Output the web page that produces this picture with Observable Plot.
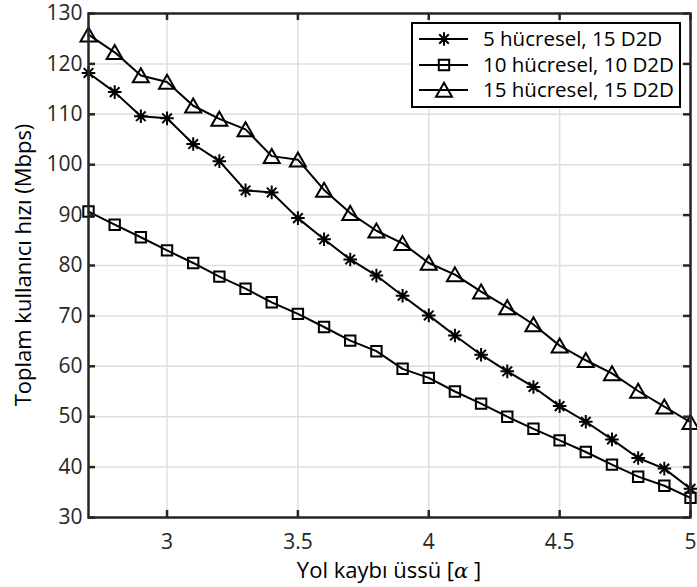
<!DOCTYPE html>
<html><head><meta charset="utf-8">
<script src="https://cdn.jsdelivr.net/npm/d3@7"></script>
<script src="https://cdn.jsdelivr.net/npm/@observablehq/plot@0.6"></script>
<style>body{margin:0;background:#fff}</style>
</head><body><div id="chart"></div>
<script>
const alpha = [2.7,2.8,2.9,3.0,3.1,3.2,3.3,3.4,3.5,3.6,3.7,3.8,3.9,4.0,4.1,4.2,4.3,4.4,4.5,4.6,4.7,4.8,4.9,5.0];
const s5  = [118.2,114.4,109.6,109.2,104.1,100.7,94.9,94.5,89.4,85.2,81.2,78.0,74.0,70.1,66.1,62.3,59.0,55.9,52.1,49.0,45.5,41.8,39.7,35.7];
const s10 = [90.7,88.1,85.6,83.0,80.5,77.8,75.4,72.7,70.4,67.8,65.1,63.0,59.5,57.7,55.0,52.6,50.0,47.6,45.3,43.0,40.5,38.1,36.3,33.9];
const s15 = [125.8,122.3,117.7,116.4,111.7,109.1,107.0,101.7,101.0,95.0,90.4,86.9,84.4,80.5,78.2,74.8,71.7,68.3,64.1,61.2,58.6,55.1,52.0,48.9];
const seriesNames = ["5 hücresel, 15 D2D","10 hücresel, 10 D2D","15 hücresel, 15 D2D"];
const xTicks = [3,3.5,4,4.5,5];
const yTicks = [30,40,50,60,70,80,90,100,110,120,130];
const xLabelMain = "Yol kaybı üssü [";
const xLabelSym = "α";
const xLabelEnd = " ]";
const yLabel = "Toplam kullanıcı hızı (Mbps)";

const W = 697, H = 587, mL = 88, mR = 7, mT = 13, mB = 70;
const iW = W - mL - mR, iH = H - mT - mB;

const asterisk = {draw(c){const r=6.8,d=r*Math.SQRT1_2;c.moveTo(0,-r);c.lineTo(0,r);c.moveTo(-r,0);c.lineTo(r,0);c.moveTo(-d,-d);c.lineTo(d,d);c.moveTo(-d,d);c.lineTo(d,-d);}};
const square = {draw(c){const h=5.2;c.moveTo(-h,-h);c.lineTo(h,-h);c.lineTo(h,h);c.lineTo(-h,h);c.closePath();}};
const triangle = {draw(c){c.moveTo(0,-7.2);c.lineTo(8,6.8);c.lineTo(-8,6.8);c.closePath();}};
const symbols = [asterisk, square, triangle];
const keys = ["v5","v10","v15"];

const rows = alpha.map((a,i)=>({alpha:a, v5:s5[i], v10:s10[i], v15:s15[i]}));

const tickStyle = {stroke:"#262626", strokeWidth:2.5};
const seriesMarks = keys.flatMap((k,i)=>[
  Plot.line(rows,{x:"alpha",y:k,stroke:"black",strokeWidth:2}),
  Plot.dot(rows,{x:"alpha",y:k,symbol:symbols[i],stroke:"black",strokeWidth:2,fill:"none"})
]);

const svg = Plot.plot({
  width: W, height: H,
  marginLeft: mL, marginRight: mR, marginTop: mT, marginBottom: mB,
  style: {fontFamily:"'Open Sans', sans-serif", fontSize:"21px", color:"#262626", background:"#fff", overflow:"visible"},
  x: {domain:[2.7,5]},
  y: {domain:[30,130]},
  marks: [
    Plot.gridX(xTicks,{stroke:"#dedede",strokeOpacity:1,strokeWidth:1.5}),
    Plot.gridY(yTicks,{stroke:"#dedede",strokeOpacity:1,strokeWidth:1.5}),
    ...seriesMarks,
    Plot.frame({stroke:"#262626",strokeWidth:2.5}),
    Plot.tickX(xTicks,{x:d=>d, insetTop:iH-7, ...tickStyle}),
    Plot.tickX(xTicks,{x:d=>d, insetBottom:iH-7, ...tickStyle}),
    Plot.tickY(yTicks,{y:d=>d, insetRight:iW-7, ...tickStyle}),
    Plot.tickY(yTicks,{y:d=>d, insetLeft:iW-7, ...tickStyle}),
    Plot.axisX(xTicks,{tickSize:0,tickPadding:17,label:null,tickFormat:d=>String(d)}),
    Plot.axisY(yTicks,{tickSize:0,tickPadding:6,label:null})
  ]
});
document.getElementById("chart").appendChild(svg);

const s = d3.select(svg);
// axis labels
s.append("text").attr("transform",`translate(23,${mT+iH/2}) rotate(-90)`)
  .attr("text-anchor","middle").attr("dy","0.35em").attr("fill","#000")
  .style("font-size","22px").text(yLabel);
const xl = s.append("text").attr("x", mL+iW/2).attr("y",578)
  .attr("text-anchor","middle").attr("fill","#000").style("font-size","22px");
xl.append("tspan").text(xLabelMain);
xl.append("tspan").style("font-family","'DejaVu Serif', serif").style("font-style","italic").style("font-size","21px").text(xLabelSym);
xl.append("tspan").text(xLabelEnd);

// legend
const lg = s.append("g");
lg.append("rect").attr("x",412).attr("y",23).attr("width",268).attr("height",84)
  .attr("fill","#fff").attr("stroke","#000").attr("stroke-width",2);
const rowY = [39,65,90];
seriesNames.forEach((name,i)=>{
  lg.append("line").attr("x1",419).attr("x2",468).attr("y1",rowY[i]).attr("y2",rowY[i])
    .attr("stroke","#000").attr("stroke-width",2);
  const p = d3.path(); symbols[i].draw(p);
  lg.append("path").attr("d",p.toString()).attr("transform",`translate(444,${rowY[i]})`)
    .attr("fill","none").attr("stroke","#000").attr("stroke-width",2);
  lg.append("text").attr("x",483).attr("y",rowY[i]).attr("dy","0.35em").attr("fill","#000")
    .attr("text-anchor","start").style("font-size","20.5px").text(name);
});
</script>
</body></html>
